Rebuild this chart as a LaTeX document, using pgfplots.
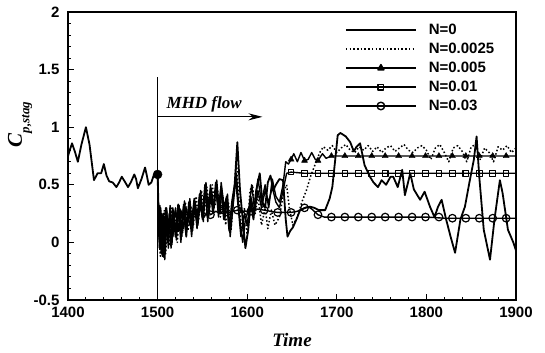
\documentclass[border=0pt]{standalone}
\usepackage{fontspec}
\setmainfont{Liberation Sans}
\setsansfont{Liberation Sans}
\newfontfamily\timesfont{Liberation Serif}
\usepackage{pgfplots}
\pgfplotsset{compat=1.18}
\usetikzlibrary{arrows.meta}

\begin{document}
\begin{tikzpicture}
\begin{axis}[
  scale only axis, width=448bp, height=288bp,
  xmin=1400, xmax=1900, ymin=-0.5, ymax=2,
  xtick={1400,1500,...,1900}, ytick={-0.5,0,0.5,1,1.5,2},
  minor x tick num=4, minor y tick num=4,
  tick align=inside, xtick pos=left, ytick pos=left,
  major tick length=6bp, minor tick length=3bp,
  axis line style={line width=1.5bp},
  tick style={line width=1bp, black},
  /pgf/number format/assume math mode=true,
  ticklabel style={font=\bfseries\fontsize{15bp}{15bp}\selectfont},
  yticklabel style={/pgf/number format/fixed, xshift=-5bp},
  xticklabel style={/pgf/number format/1000 sep={}, yshift=-4bp},
  xlabel={\timesfont\bfseries\itshape\fontsize{19bp}{19bp}\selectfont Time},
  xlabel style={at={(axis description cs:0.5,-0.139)}, anchor=center},
  ylabel={\timesfont\bfseries\itshape\fontsize{21bp}{21bp}\selectfont C\raisebox{-0.35em}{\fontsize{13bp}{13bp}\selectfont p,stag}},
  ylabel style={at={(axis description cs:-0.107,0.61)}, anchor=center},
  legend style={draw=none, fill=none, at={(axis description cs:0.618,0.962)}, anchor=north west,
    font=\bfseries\fontsize{15bp}{15bp}\selectfont, row sep=5bp, inner sep=0pt,
    nodes={inner sep=1bp},
    /tikz/every odd column/.append style={column sep=11bp}},
  legend cell align=left,
  legend image code/.code={\draw[mark repeat=2,mark phase=2,#1] plot coordinates {(0bp,0bp) (35bp,0bp) (70bp,0bp)};},
  every axis plot/.append style={line join=round},
]
\addlegendimage{black, line width=1.7bp}
\addlegendentry{N=0}
\addlegendimage{black, line width=1.5bp, dash pattern=on 1.5bp off 2.2bp}
\addlegendentry{N=0.0025}
\addlegendimage{black, line width=1.4bp, mark=triangle*, mark size=3.5bp, mark options={solid, fill=black}}
\addlegendentry{N=0.005}
\addlegendimage{black, line width=1.4bp, mark=square, mark size=2.8bp, mark options={solid, fill=white}}
\addlegendentry{N=0.01}
\addlegendimage{black, line width=1.4bp, mark=o, mark size=3.8bp, mark options={solid, fill=white}}
\addlegendentry{N=0.03}

% N=0.03 (circles)
\addplot[black, line width=1.4bp, forget plot] coordinates {
(1500,0.59) (1501.5,0.05) (1503,0.3) (1504.5,-0.1) (1506,0.25) (1508,-0.05) (1510,0.3) (1512,0.02) (1514,0.28) (1517,0.05) (1520,0.3) (1523,0.1) (1526,0.28) (1529,0.12) (1532,0.3) (1536,0.15) (1540,0.3) (1544,0.2) (1548,0.3) (1552,0.22) (1556,0.28) (1559,0.24) (1565,0.27) (1570,0.25) (1574,0.28) (1580,0.26) (1589,0.28) (1597,0.27) (1604,0.27) (1610,0.29) (1619,0.28) (1626,0.27) (1634,0.26) (1649,0.26) (1656,0.27) (1664,0.30) (1668,0.31) (1672,0.29) (1679,0.24) (1686,0.22) (1694,0.22) (1720,0.22) (1760,0.22) (1800,0.22) (1820,0.21) (1860,0.21) (1900,0.21)};
\addplot[only marks, mark=o, mark size=3.8bp, mark options={fill=white, line width=1.2bp}, forget plot] coordinates {
(1559,0.24) (1574,0.28) (1589,0.28) (1604,0.27) (1619,0.28) (1634,0.26) (1649,0.26) (1664,0.30) (1679,0.24) (1694,0.22) (1709,0.22) (1724,0.22) (1739,0.22) (1754,0.22) (1769,0.22) (1784,0.22) (1799,0.22) (1814,0.22) (1829,0.21) (1844,0.21) (1859,0.21) (1874,0.21) (1889,0.21)};

% N=0.01 (squares)
\addplot[black, line width=1.4bp, forget plot] coordinates {
(1500,0.59) (1501,0.2) (1502.5,0.32) (1504,-0.08) (1505.5,0.2) (1507,-0.13) (1509,0.3) (1511,0.0) (1513,0.25) (1515,-0.05) (1517,0.3) (1520,0.08) (1523,0.28) (1526,0.0) (1529,0.33) (1532,0.1) (1535,0.3) (1538,0.05) (1541,0.35) (1544,0.12) (1547,0.4) (1550,0.2) (1553,0.45) (1556,0.18) (1559,0.5) (1562,0.28) (1565,0.48) (1568,0.22) (1571,0.52) (1574,0.3) (1577,0.4) (1580,0.12) (1583,0.3) (1587,0.55) (1590,0.3) (1593,0.05) (1597,0.25) (1600,0.15) (1604,0.4) (1608,0.25) (1612,0.45) (1616,0.3) (1620,0.45) (1624,0.35) (1628,0.48) (1632,0.35) (1636,0.3) (1640,0.45) (1644,0.60) (1649,0.61) (1664,0.60) (1700,0.60) (1750,0.60) (1800,0.60) (1850,0.60) (1900,0.60)};
\addplot[only marks, mark=square, mark size=2.8bp, mark options={fill=white, line width=1.1bp}, forget plot] coordinates {
(1649,0.61) (1664,0.60) (1679,0.60) (1694,0.60) (1709,0.60) (1724,0.60) (1739,0.60) (1754,0.60) (1769,0.60) (1784,0.60) (1799,0.60) (1814,0.60) (1829,0.60) (1844,0.60) (1859,0.60) (1874,0.60) (1889,0.60)};

% N=0.005 (triangles)
\addplot[black, line width=1.4bp, forget plot] coordinates {
(1500,0.59) (1502,-0.05) (1503.5,0.3) (1505,-0.1) (1506.5,0.25) (1508,-0.15) (1510,0.22) (1512,-0.05) (1514,0.32) (1516,-0.02) (1518,0.28) (1521,0.02) (1524,0.32) (1527,0.05) (1530,0.36) (1533,0.12) (1536,0.38) (1539,0.1) (1542,0.35) (1545,0.15) (1548,0.45) (1551,0.18) (1554,0.52) (1557,0.22) (1560,0.46) (1563,0.3) (1566,0.54) (1569,0.25) (1572,0.45) (1575,0.2) (1578,0.42) (1581,0.05) (1584,0.3) (1588,0.6) (1591,0.25) (1595,0.0) (1598,0.2) (1602,0.3) (1605,0.5) (1608,0.3) (1612,0.55) (1616,0.35) (1620,0.5) (1624,0.3) (1628,0.55) (1632,0.4) (1636,0.35) (1640,0.5) (1643,0.70) (1646,0.68) (1649,0.72) (1652,0.77) (1656,0.70) (1660,0.78) (1664,0.71) (1668,0.72) (1672,0.78) (1676,0.72) (1679,0.71) (1684,0.77) (1688,0.73) (1694,0.75) (1750,0.75) (1800,0.75) (1850,0.75) (1900,0.75)};
\addplot[only marks, mark=triangle*, mark size=3.5bp, mark options={fill=black}, forget plot] coordinates {
(1649,0.72) (1664,0.71) (1679,0.71) (1694,0.75) (1709,0.75) (1724,0.75) (1739,0.75) (1754,0.75) (1769,0.75) (1784,0.75) (1799,0.75) (1814,0.75) (1829,0.75) (1844,0.75) (1859,0.75) (1874,0.75) (1889,0.75)};

% N=0.0025 (dotted)
\addplot[black, line width=1.5bp, dash pattern=on 1.5bp off 2.2bp, forget plot] coordinates {
(1500,0.59) (1501.5,0.1) (1503,-0.12) (1504.5,0.22) (1506,-0.05) (1507.5,0.28) (1509,-0.1) (1511,0.2) (1513,-0.03) (1515,0.3) (1517,0.05) (1519,0.27) (1522,0.0) (1525,0.3) (1528,0.08) (1531,0.35) (1534,0.1) (1537,0.32) (1540,0.15) (1543,0.4) (1546,0.2) (1549,0.45) (1552,0.25) (1555,0.48) (1558,0.3) (1561,0.5) (1564,0.32) (1567,0.45) (1570,0.22) (1573,0.4) (1576,0.15) (1579,0.35) (1582,0.1) (1585,0.42) (1588,0.7) (1591,0.35) (1594,0.1) (1597,0.3) (1600,0.05) (1603,0.45) (1606,0.5) (1609,0.25) (1612,0.40) (1616,0.15) (1620,0.30) (1623,0.12) (1627,0.28) (1631,0.15) (1636,0.22) (1641,0.45) (1644,0.50) (1647,0.30) (1651,0.15) (1656,0.22) (1661,0.35) (1666,0.45) (1671,0.58) (1676,0.68) (1681,0.78) (1685,0.83) (1690,0.80) (1695,0.84) (1700,0.78) (1705,0.82) (1710,0.85) (1715,0.80) (1720,0.78) (1725,0.83) (1730,0.80) (1735,0.84) (1740,0.79) (1745,0.83) (1750,0.78) (1755,0.82) (1760,0.84) (1765,0.79) (1770,0.82) (1775,0.85) (1780,0.80) (1785,0.78) (1790,0.82) (1795,0.84) (1800,0.80) (1805,0.72) (1810,0.82) (1815,0.85) (1820,0.78) (1825,0.70) (1830,0.82) (1835,0.84) (1840,0.79) (1845,0.70) (1850,0.83) (1855,0.85) (1860,0.72) (1865,0.82) (1870,0.78) (1875,0.70) (1880,0.83) (1885,0.80) (1890,0.84) (1895,0.78) (1900,0.82)};

% N=0 (solid)
\addplot[black, line width=1.8bp, forget plot] coordinates {
(1400,0.75) (1402,0.80) (1404.5,0.86) (1408,0.78) (1411,0.70) (1415,0.85) (1420,1.00) (1424,0.85) (1429,0.54) (1433,0.60) (1437,0.60) (1440,0.68) (1443,0.58) (1446,0.53) (1450,0.52) (1454,0.48) (1457,0.52) (1460,0.57) (1464,0.52) (1467,0.48) (1470,0.52) (1474,0.59) (1476,0.55) (1478,0.47) (1482,0.55) (1486,0.65) (1488,0.58) (1490,0.50) (1493,0.52) (1496,0.59) (1500,0.59)
(1501,0.30) (1502.5,-0.05) (1504,0.25) (1505.5,-0.12) (1507,0.2) (1508.5,-0.08) (1510,0.28) (1512,0.0) (1514,0.3) (1516,0.02) (1518,0.25) (1520,0.05) (1523,0.33) (1526,0.1) (1529,0.3) (1532,0.05) (1535,0.35) (1538,0.15) (1541,0.38) (1544,0.18) (1547,0.42) (1550,0.22) (1553,0.5) (1556,0.3) (1559,0.45) (1562,0.25) (1565,0.52) (1568,0.3) (1571,0.48) (1574,0.2) (1577,0.38) (1580,0.1) (1583,0.35) (1586,0.5) (1589,0.87) (1592,0.45) (1595,0.2) (1598,-0.05) (1601,0.1) (1604,0.35) (1607,0.2) (1610,0.45) (1614,0.60) (1617,0.35) (1620,0.3) (1623,0.52) (1626,0.58) (1629,0.45) (1632,0.5) (1636,0.55) (1640,0.54) (1643,0.2) (1645,0.05) (1648,0.1) (1651,0.13) (1655,0.2) (1659,0.28) (1665,0.3) (1670,0.31) (1675,0.30) (1680,0.28) (1687,0.28) (1692,0.38) (1695,0.48) (1698,0.70) (1701,0.93) (1704,0.95) (1710,0.92) (1715,0.87) (1719,0.79) (1722,0.83) (1726,0.86) (1731,0.67) (1737,0.57) (1741,0.52) (1746,0.48) (1750,0.54) (1755,0.50) (1760,0.57) (1763,0.57) (1768,0.48) (1773,0.63) (1776,0.41) (1782,0.60) (1786,0.46) (1793,0.37) (1798,0.44) (1804,0.31) (1809,0.22) (1813,0.31) (1817,0.37) (1822,0.20) (1827,0.05) (1832,-0.09) (1838,0.20) (1843,0.31) (1848,0.52) (1853,0.72) (1856,0.92) (1859,0.57) (1864,0.11) (1871,-0.15) (1876,0.2) (1882,0.54) (1885,0.43) (1891,0.11) (1897,0.0) (1900,-0.07)};

% start marker
\addplot[only marks, mark=*, mark size=4.5bp, mark options={fill=black}, forget plot] coordinates {(1500,0.59)};

% MHD onset line
\addplot[black, line width=1.2bp, forget plot] coordinates {(1500,-0.5) (1500,1.44)};
\draw[line width=1.2bp, -{Stealth[length=14bp,width=7bp]}] (axis cs:1500,1.09) -- (axis cs:1617,1.09);
\node[font=\timesfont\bfseries\itshape\fontsize{17bp}{17bp}\selectfont] at (axis cs:1552,1.2) {MHD flow};
\end{axis}
\pgfresetboundingbox
\path (-68bp,-53bp) rectangle (477bp,300bp);
\end{tikzpicture}
\end{document}
